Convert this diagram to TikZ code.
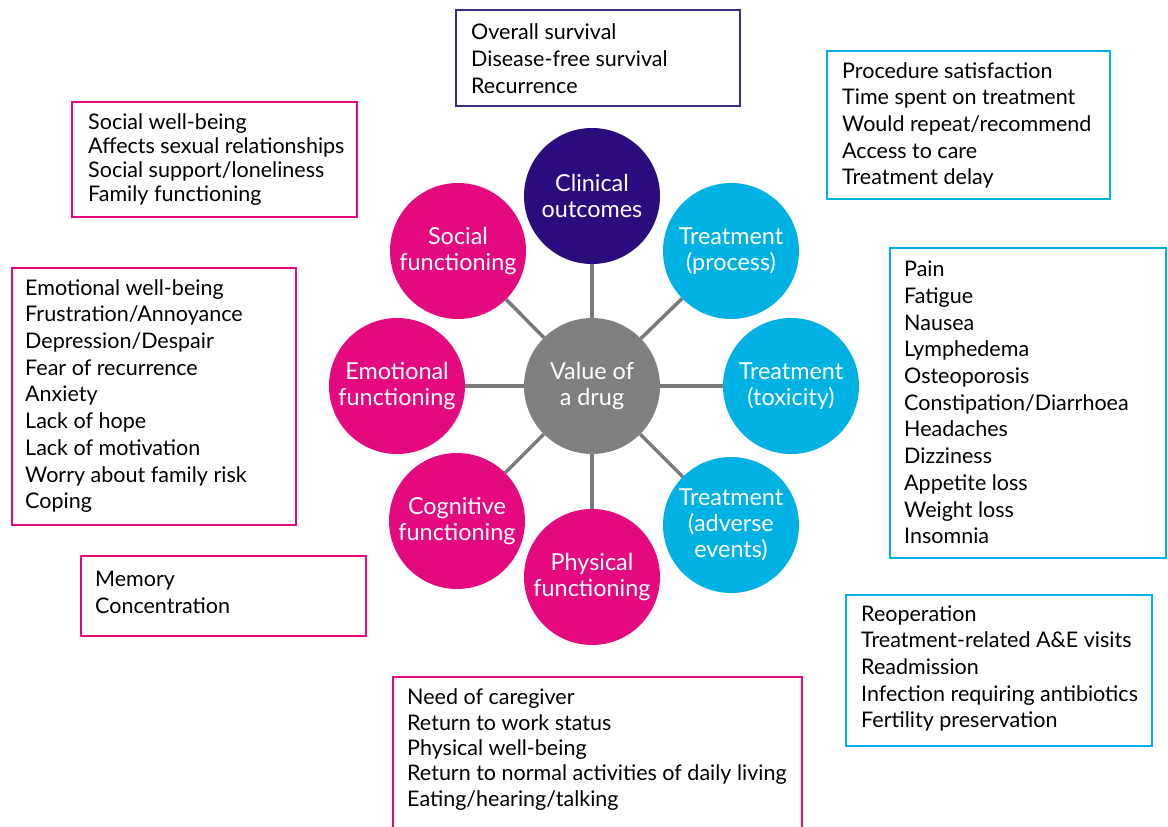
\documentclass[tikz,border=0pt]{standalone}
\usepackage{fontspec}
\setmainfont{Lato}
\definecolor{mag}{HTML}{E5097F}
\definecolor{cya}{HTML}{00B2E3}
\definecolor{pur}{HTML}{2B0C7E}
\definecolor{purbox}{HTML}{3E2A84}
\definecolor{gry}{HTML}{808080}
\definecolor{lnk}{HTML}{7A7A7A}
\begin{document}
\begin{tikzpicture}[x=1pt,y=-1pt,
  circ/.style={circle, fill=#1, minimum size=136pt, inner sep=0pt, text=white, align=center, font=\fontsize{23.4}{26}\selectfont},
  frame/.style={draw=#1, line width=2.8pt, inner sep=0pt},
  lst/.style={align=left, anchor=west, inner sep=0pt, text=black, font=\fontsize{21.5}{26.7}\selectfont},
  link/.style={draw=lnk, line width=3.5pt}]

\useasboundingbox (0,0) rectangle (1168,827);
\fill[white] (0,0) rectangle (1168,827);

% circles
\node[circ=gry] (val) at (592,386) {Value of\\a drug};
\node[circ=pur] (clin) at (592,196) {Clinical\\outcomes};
\node[circ=cya] (proc) at (731,251) {Treatment\\(process)};
\node[circ=cya] (tox) at (791,386) {Treatment\\(toxicity)};
\node[circ=cya] (adv) at (731,525) {Treatment\\(adverse\\events)};
\node[circ=mag] (phys) at (592,577) {Physical\\functioning};
\node[circ=mag] (cog) at (457,521) {Cognitive\\functioning};
\node[circ=mag] (emo) at (397,386) {Emotional\\functioning};
\node[circ=mag] (soc) at (458,251) {Social\\functioning};

% connectors
\foreach \n in {clin,proc,tox,adv,phys,cog,emo,soc}
  \draw[link] (val) -- (\n);

% boxes
\node[frame=purbox, minimum width=284pt, minimum height=96pt] (clin-box) at (598,58) {};
\node[lst] (clin-txt) at (471,58.5) {Overall survival\\Disease-free survival\\Recurrence};

\node[frame=cya, minimum width=283pt, minimum height=148pt] (proc-box) at (968.5,125) {};
\node[lst] (proc-txt) at (842,125.5) {Procedure satisfaction\\Time spent on treatment\\Would repeat/recommend\\Access to care\\Treatment delay};

\node[frame=cya, minimum width=276pt, minimum height=310pt] (tox-box) at (1028,403) {};
\node[lst] (tox-txt) at (904,402.5) {Pain\\Fatigue\\Nausea\\Lymphedema\\Osteoporosis\\Constipation/Diarrhoea\\Headaches\\Dizziness\\Appetite loss\\Weight loss\\Insomnia};

\node[frame=cya, minimum width=306pt, minimum height=151pt] (adv-box) at (999,670.5) {};
\node[lst] (adv-txt) at (861,668.5) {Reoperation\\Treatment-related A\&E visits\\Readmission\\Infection requiring antibiotics\\Fertility preservation};

\node[frame=mag, minimum width=409pt, minimum height=173pt] (phys-box) at (597.5,763.5) {};
\node[lst, font=\fontsize{21.5}{25.3}\selectfont] (phys-txt) at (407,749.5) {Need of caregiver\\Return to work status\\Physical well-being\\Return to normal activities of daily living\\Eating/hearing/talking};

\node[frame=mag, minimum width=285pt, minimum height=80pt] (cog-box) at (223.5,596) {};
\node[lst] (cog-txt) at (95,592.5) {Memory\\Concentration};

\node[frame=mag, minimum width=284pt, minimum height=257pt] (emo-box) at (154,396.5) {};
\node[lst] (emo-txt) at (25,396) {Emotional well-being\\Frustration/Annoyance\\Depression/Despair\\Fear of recurrence\\Anxiety\\Lack of hope\\Lack of motivation\\Worry about family risk\\Coping};

\node[frame=mag, minimum width=285pt, minimum height=115pt] (soc-box) at (214.5,159.5) {};
\node[lst, font=\fontsize{21.5}{23.7}\selectfont] (soc-txt) at (88,159.5) {Social well-being\\Affects sexual relationships\\Social support/loneliness\\Family functioning};
\end{tikzpicture}
\end{document}
